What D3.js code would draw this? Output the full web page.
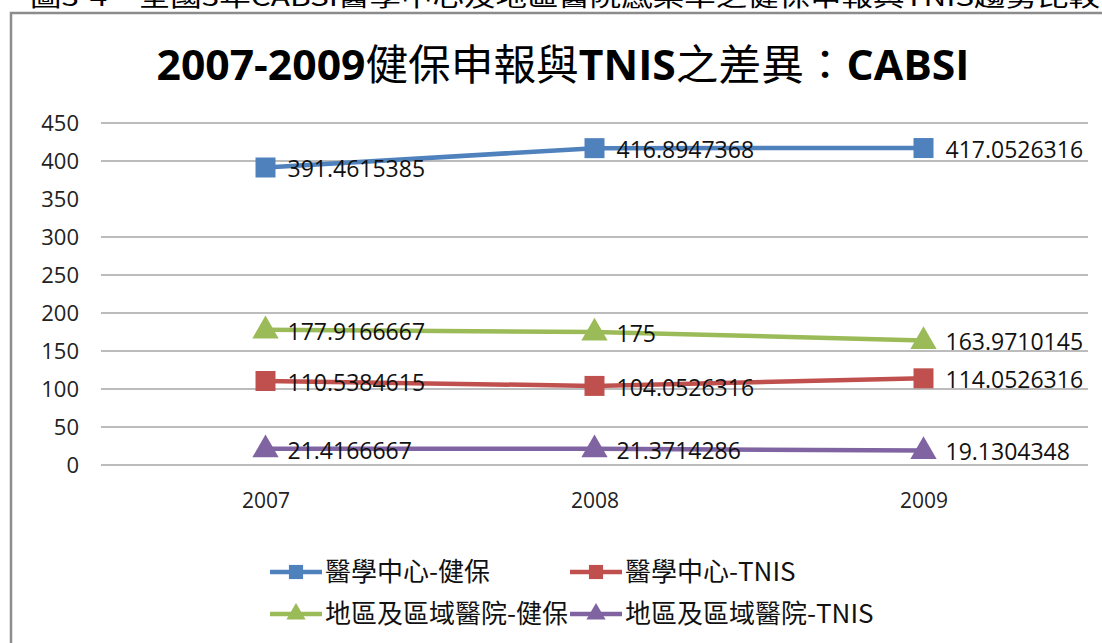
<!DOCTYPE html>
<html><head><meta charset="utf-8">
<script src="https://cdn.jsdelivr.net/npm/d3@7"></script>
<style>
html,body{margin:0;padding:0;background:#fff;}
svg{display:block;}
</style></head>
<body>
<svg id="chart" width="1102" height="643"></svg>
<script>
const years = ["2007", "2008", "2009"];
const seriesNames = ["醫學中心-健保", "醫學中心-TNIS", "地區及區域醫院-健保", "地區及區域醫院-TNIS"];
const medCenterNHI = [391.4615385, 416.8947368, 417.0526316];
const medCenterTNIS = [110.5384615, 104.0526316, 114.0526316];
const regionalNHI = [177.9166667, 175, 163.9710145];
const regionalTNIS = [21.4166667, 21.3714286, 19.1304348];
const yTicks = [0, 50, 100, 150, 200, 250, 300, 350, 400, 450];
const titleParts = [["2007-2009", "bold"], ["健保申報與", "normal"], ["TNIS", "bold"], ["之差異：", "normal"], ["CABSI", "bold"]];
const captionText = "圖3-4　全國3年CABSI醫學中心及地區醫院感染率之健保申報與TNIS趨勢比較";

const series = [
  {name: seriesNames[0], values: medCenterNHI, color: "#4F81BD", shape: "square"},
  {name: seriesNames[1], values: medCenterTNIS, color: "#C0504D", shape: "square"},
  {name: seriesNames[2], values: regionalNHI, color: "#9BBB59", shape: "triangle"},
  {name: seriesNames[3], values: regionalTNIS, color: "#8064A2", shape: "triangle"}
];

const svg = d3.select("#chart");
const font = "'Open Sans','Noto Sans CJK TC',sans-serif";

// caption (cut off at top, as in the source page)
svg.append("text").attr("x", 30).attr("y", 6)
  .attr("font-family", "'Noto Sans CJK TC',sans-serif").attr("font-size", 24)
  .attr("textLength", 1070).attr("lengthAdjust", "spacingAndGlyphs")
  .attr("fill", "#000").text(captionText);

// chart border
svg.append("rect").attr("x", 11).attr("y", 13).attr("width", 1200).attr("height", 700)
  .attr("fill", "#fff").attr("stroke", "#8c8c8c").attr("stroke-width", 2.5);

// title
const title = svg.append("text").attr("x", 563).attr("y", 80).attr("text-anchor", "middle")
  .attr("font-family", font).attr("font-size", 42).attr("fill", "#000")
  .attr("textLength", 813).attr("lengthAdjust", "spacingAndGlyphs");
titleParts.forEach(p => title.append("tspan").attr("font-weight", p[1]).text(p[0]));

const x = d3.scalePoint().domain(years).range([101, 1088]).padding(0.5);
const y = d3.scaleLinear().domain([0, 450]).range([465, 123]);

// gridlines
svg.append("g").selectAll("line").data(yTicks.filter(t => t !== 350)).join("line")
  .attr("x1", 101).attr("x2", 1088)
  .attr("y1", d => y(d)).attr("y2", d => y(d))
  .attr("stroke", "#a6a6a6").attr("stroke-width", 1.5);

// y axis labels
const yAxis = d3.axisLeft(y).tickValues(yTicks).tickSize(0).tickPadding(0);
const gy = svg.append("g").attr("transform", "translate(79,0)").call(yAxis);
gy.select(".domain").remove();
gy.selectAll("text").attr("font-family", font).attr("font-size", 22).attr("fill", "#222");

// x axis labels
const xAxis = d3.axisBottom(x).tickSize(0).tickPadding(0);
const gx = svg.append("g").attr("transform", "translate(0,493)").call(xAxis);
gx.select(".domain").remove();
gx.selectAll("text").attr("font-family", font).attr("font-size", 21).attr("fill", "#222");

const line = d3.line().x((d, i) => x(years[i])).y(d => y(d));
const sqSym = d3.symbol().type(d3.symbolSquare).size(400);
const triSym = d3.symbol().type(d3.symbolTriangle).size(300);

series.forEach(s => {
  svg.append("path").datum(s.values).attr("d", line)
    .attr("fill", "none").attr("stroke", s.color).attr("stroke-width", 4.5);
  svg.append("g").selectAll("path").data(s.values).join("path")
    .attr("d", s.shape === "square" ? sqSym : triSym)
    .attr("transform", (d, i) => `translate(${x(years[i])},${y(d) + (s.shape === "triangle" ? 1 : 0)})`)
    .attr("fill", s.color);
});

// data labels
series.forEach(s => {
  svg.append("g").selectAll("text").data(s.values).join("text")
    .attr("x", (d, i) => x(years[i]) + 22)
    .attr("y", d => y(d) + 10)
    .attr("font-family", font).attr("font-size", 23).attr("fill", "#111")
    .text(d => String(d));
});

// legend
const legendPos = [[270, 572], [570, 572], [270, 614], [570, 614]];
series.forEach((s, i) => {
  const [lx, ly] = legendPos[i];
  const g = svg.append("g").attr("transform", `translate(${lx},${ly})`);
  g.append("line").attr("x1", 0).attr("x2", 52).attr("y1", 0).attr("y2", 0)
    .attr("stroke", s.color).attr("stroke-width", 4.5);
  g.append("path").attr("d", s.shape === "square" ? d3.symbol().type(d3.symbolSquare).size(200)() : d3.symbol().type(d3.symbolTriangle).size(160)())
    .attr("transform", "translate(26,0)").attr("fill", s.color);
  g.append("text").attr("x", 55).attr("y", 9)
    .attr("font-family", "'Noto Sans CJK TC',sans-serif").attr("font-size", 26).attr("fill", "#111")
    .text(s.name);
});
</script>
</body></html>
